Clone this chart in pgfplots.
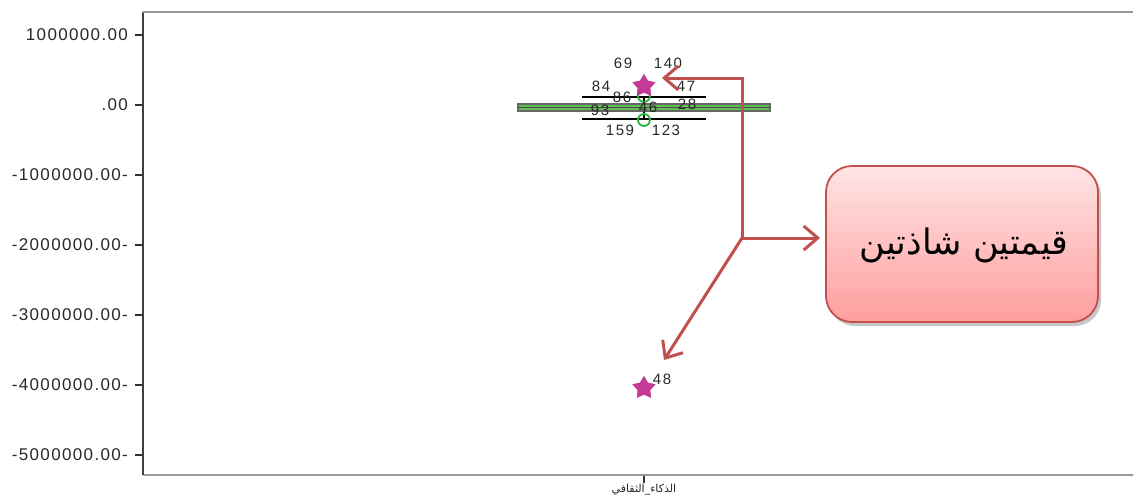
\documentclass[border=0pt]{standalone}
\usepackage{pgfplots}
\pgfplotsset{compat=1.18}
\usepgfplotslibrary{statistics}
\usetikzlibrary{arrows.meta,shadows}
\usepackage{fontspec}
\setmainfont{Liberation Sans}
\newfontfamily\arabicfont[Script=Arabic]{DejaVu Sans}
\TeXXeTstate=1
\definecolor{boxgreen}{RGB}{96,192,86}
\definecolor{circgreen}{RGB}{40,180,60}
\definecolor{starmag}{RGB}{196,58,150}
\definecolor{arrred}{RGB}{192,80,77}
\definecolor{lbl}{RGB}{40,40,40}
\pgfdeclareplotmark{fstar}{%
  \pgfpathmoveto{\pgfqpointpolar{90}{\pgfplotmarksize}}%
  \pgfpathlineto{\pgfqpointpolar{126}{0.55\pgfplotmarksize}}%
  \pgfpathlineto{\pgfqpointpolar{162}{\pgfplotmarksize}}%
  \pgfpathlineto{\pgfqpointpolar{198}{0.55\pgfplotmarksize}}%
  \pgfpathlineto{\pgfqpointpolar{234}{\pgfplotmarksize}}%
  \pgfpathlineto{\pgfqpointpolar{270}{0.55\pgfplotmarksize}}%
  \pgfpathlineto{\pgfqpointpolar{306}{\pgfplotmarksize}}%
  \pgfpathlineto{\pgfqpointpolar{342}{0.55\pgfplotmarksize}}%
  \pgfpathlineto{\pgfqpointpolar{18}{\pgfplotmarksize}}%
  \pgfpathlineto{\pgfqpointpolar{54}{0.55\pgfplotmarksize}}%
  \pgfpathclose\pgfusepathqfillstroke}
\begin{document}
\begin{tikzpicture}
\useasboundingbox (0,0) rectangle (566.5pt,247pt);
\begin{axis}[
  at={(71.5pt,9.5pt)}, anchor=south west,
  scale only axis, width=495pt, height=231.5pt,
  xmin=0, xmax=1, ymin=-5.285714, ymax=1.328571,
  axis x line*=bottom, axis y line*=left,
  x axis line style={draw=black!40, line width=1.4pt, -},
  y axis line style={draw=black!75, line width=0.8pt, -},
  tick align=outside, major tick length=4pt,
  ytick={1,0,-1,-2,-3,-4,-5},
  yticklabels={1000000.00,.00,-1000000.00-,-2000000.00-,-3000000.00-,-4000000.00-,-5000000.00-},
  yticklabel style={font=\fontsize{8.5}{9}\selectfont\addfontfeature{LetterSpace=8}, text=lbl},
  ytick style={black!80, line width=0.7pt},
  xtick={0.506},
  xticklabels={{\arabicfont\beginR الذكاء\_الثقافي\endR}},
  xticklabel style={font=\fontsize{5.5}{6}\selectfont, text=lbl, inner sep=0.5pt},
  xtick style={black!80, line width=0.7pt},
  clip=false,
  boxplot/draw direction=y,
]
\addplot[boxplot prepared={
    lower whisker=-0.200, lower quartile=-0.086, median=-0.036,
    upper quartile=0.014, upper whisker=0.114,
    draw position=0.506, box extend=0.2545, whisker extend=0.125},
  draw=black!60, fill=boxgreen, line width=0.6pt,
  boxplot/every whisker/.style={black, line width=0.7pt},
  boxplot/every median/.style={black!70, line width=0.6pt}] coordinates {};
\addplot[only marks, mark=o, mark size=3pt, circgreen, line width=0.9pt]
  coordinates {(0.506,0.129) (0.506,-0.214)};
\addplot[only marks, mark=fstar, mark size=5.8pt, starmag, fill=starmag, line width=0.3pt]
  coordinates {(0.506,0.271) (0.506,-4.043)};
\end{axis}
\begin{scope}[x=0.5pt, y=-0.5pt, yshift=247pt]
\draw[black!40, line width=1.4pt] (143,12) -- (1133,12);
\begin{scope}[every node/.style={font=\fontsize{7.5}{8}\selectfont\addfontfeature{LetterSpace=10}, text=lbl, inner sep=0pt}]
\node at (623,63) {69};
\node at (668,63) {140};
\node at (601,86) {84};
\node at (686,86) {47};
\node at (622,97) {86};
\node at (600,110) {93};
\node at (648,107) {46};
\node at (687,104) {28};
\node at (620,130) {159};
\node at (666,130) {123};
\node at (662,379) {48};
\end{scope}
\draw[arrred, line width=1.5pt, -{Straight Barb[length=7pt,width=12pt]}] (742,238) -- (742,78) -- (662,78);
\draw[arrred, line width=1.5pt, -{Straight Barb[length=7pt,width=12pt]}] (742,238) -- (820,238);
\draw[arrred, line width=1.5pt, -{Straight Barb[length=7pt,width=12pt]}] (742,238) -- (664,360);
\path[draw=arrred, line width=0.9pt, rounded corners=13pt, top color={rgb,255:red,255;green,228;blue,228}, bottom color={rgb,255:red,255;green,158;blue,158},
  drop shadow={shadow xshift=1.5pt, shadow yshift=-2pt, opacity=0.22, fill=black}]
  (826,166) rectangle (1098,322);
\node at (964,245) {\fontsize{17.5}{20}\selectfont\arabicfont\beginR قيمتين شاذتين\endR};
\end{scope}
\end{tikzpicture}
\end{document}
